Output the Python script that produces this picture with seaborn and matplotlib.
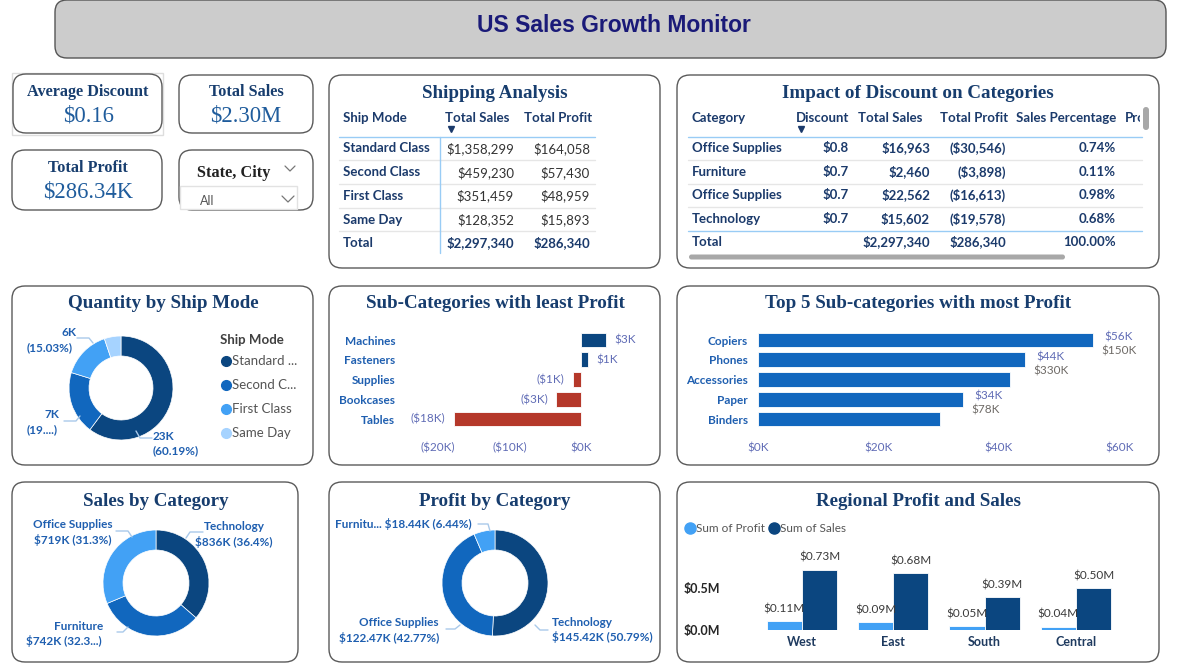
import matplotlib
matplotlib.use("Agg")
import matplotlib.pyplot as plt
import seaborn as sns
import pandas as pd
from matplotlib.patches import FancyBboxPatch, Rectangle
from matplotlib.lines import Line2D
from matplotlib.transforms import Affine2D
from matplotlib.ticker import FuncFormatter

# ---------------- data ----------------
ship_modes = ["Standard Class", "Second Class", "First Class", "Same Day"]
ship_sales = [1358299, 459230, 351459, 128352]
ship_profit = [164058, 57430, 48959, 15893]
ship_qty = [22797, 7423, 5693, 1960]

disc_cats = ["Office Supplies", "Furniture", "Office Supplies", "Technology"]
disc_vals = [0.8, 0.7, 0.7, 0.7]
disc_sales = [16963, 2460, 22562, 15602]
disc_profit = [-30546, -3898, -16613, -19578]
disc_pct = [0.74, 0.11, 0.98, 0.68]
total_sales = 2297340
total_profit = 286340

least_names = ["Machines", "Fasteners", "Supplies", "Bookcases", "Tables"]
least_profit = [3380, 950, -1190, -3470, -17730]

top_names = ["Copiers", "Phones", "Accessories", "Paper", "Binders"]
top_profit = [55620, 44400, 41940, 34050, 30220]
top_sales = [150000, 330000, None, 78000, None]

sales_cats = ["Technology", "Furniture", "Office Supplies"]
sales_cat_vals = [836000, 742000, 719000]

profit_cats = ["Technology", "Office Supplies", "Furniture"]
profit_cat_vals = [145420, 122470, 18440]

regions = ["West", "East", "South", "Central"]
reg_profit = [108420, 91520, 46750, 39710]
reg_sales = [725460, 678780, 391720, 501240]

avg_discount = 0.16

# ---------------- setup ----------------
W, H, DPI = 1196, 671, 100
sns.set_theme(style="white")
plt.rcParams["font.family"] = ["Lato", "DejaVu Sans"]
fig = plt.figure(figsize=(W / DPI, H / DPI), dpi=DPI)
fig.patch.set_facecolor("white")
PX = Affine2D().scale(1 / DPI, -1 / DPI).translate(0, H / DPI) + fig.dpi_scale_trans

NAVY = "#173d6e"
LBL = "#1f5fb0"
SERIF = "Liberation Serif"
DARK = "#0b4680"
MID = "#1167be"
LIGHT = "#42a1f5"
PALE = "#a6d3ff"
RED = "#b5382a"


def box(x0, y0, x1, y1, fc="white", ec="#5a5a5a", r=13, lw=1.0):
    p = FancyBboxPatch((x0, y0), x1 - x0, y1 - y0,
                       boxstyle=f"round,pad=0,rounding_size={r}",
                       fc=fc, ec=ec, lw=lw, transform=PX, zorder=-1)
    fig.add_artist(p)


def txt(x, y, s, **kw):
    kw.setdefault("va", "center")
    return fig.text(x, y, s, transform=PX, **kw)


def line(xs, ys, color="#a9c9ea", lw=1.0, z=2):
    fig.add_artist(Line2D(xs, ys, transform=PX, color=color, lw=lw, zorder=z))


def axes_px(x0, y0, x1, y1):
    ax = fig.add_axes([x0 / W, 1 - y1 / H, (x1 - x0) / W, (y1 - y0) / H])
    ax.patch.set_visible(False)
    return ax


def title(x, y, s, size=13.7):
    txt(x, y + 2, s, ha="center", family=SERIF, weight="bold", size=size, color=NAVY)


# ---------------- header ----------------
box(55, 0, 1166, 58, fc="#cccccc", ec="#555555", r=12)
txt(614, 25, "US Sales Growth Monitor", ha="center", family="Liberation Sans",
    weight="bold", size=16.5, color="#1a1a78")

# ---------------- cards ----------------
fig.add_artist(Rectangle((12, 73), 151, 62, transform=PX, fc="none", ec="#dddddd", lw=1, zorder=-2))
box(13, 74, 162, 133)
box(179, 75, 313, 133)
box(12, 150, 162, 210)
box(179, 150, 313, 210)

CT = dict(ha="center", family=SERIF, weight="bold", size=11.7, color=NAVY)
CV = dict(ha="center", family=SERIF, size=16.3, color="#1f5c9c")
txt(88, 92, "Average Discount", **CT)
txt(88, 116, f"${avg_discount:.2f}", **CV)
txt(246, 92, "Total Sales", **CT)
txt(246, 116, f"${total_sales/1e6:.2f}M", **CV)
txt(88, 168, "Total Profit", **CT)
txt(88, 192, f"${total_profit/1e3:.2f}K", **CV)
txt(197, 173, "State, City", ha="left", family=SERIF, weight="bold", size=11.7, color="#222222")
line([285, 290, 295], [166, 171, 166], color="#777777", lw=0.9)
fig.add_artist(Rectangle((180, 186), 117, 23, transform=PX, fc="white", ec="#e2e2e2", lw=1, zorder=1))
txt(200, 201, "All", ha="left", size=9, color="#555555")
line([282, 288, 294], [196, 202, 196], color="#777777", lw=0.9)

# ---------------- Shipping Analysis table ----------------
box(329, 75, 660, 268)
title(495, 91, "Shipping Analysis")
HC = "#1b3a6b"
txt(343, 118, "Ship Mode", ha="left", weight="bold", size=9.5, color=HC)
txt(445, 118, "Total Sales", ha="left", weight="bold", size=9.5, color=HC)
txt(524, 118, "Total Profit", ha="left", weight="bold", size=9.5, color=HC)
fig.add_artist(Line2D([451], [129], marker="v", ms=4, color=HC, transform=PX, lw=0))
line([339, 595], [136.5, 136.5], color="#99ccf5", lw=1)
line([439.5, 439.5], [137, 253], color="#99ccf5", lw=1)
rows_y = [148.5, 172.5, 196, 219.5]
for i, (m, s, p) in enumerate(zip(ship_modes, ship_sales, ship_profit)):
    y = rows_y[i]
    txt(343, y, m, ha="left", weight="bold", size=9.5, color=HC)
    txt(514, y, f"${s:,}", ha="right", size=9.5, color="#333333")
    txt(590, y, f"${p:,}", ha="right", size=9.5, color="#333333")
    line([339, 595], [y + 11.5, y + 11.5], color="#e6e6e6", lw=1, z=1)
txt(343, 243, "Total", ha="left", weight="bold", size=9.5, color=HC)
txt(514, 243, f"${sum(ship_sales):,}", ha="right", weight="bold", size=9.5, color=HC)
txt(590, 243, f"${sum(ship_profit):,}", ha="right", weight="bold", size=9.5, color=HC)

# ---------------- Impact of Discount table ----------------
box(677, 75, 1159, 268)
title(918, 91, "Impact of Discount on Categories")
txt(692, 118, "Category", ha="left", weight="bold", size=9.5, color=HC)
txt(796, 118, "Discount", ha="left", weight="bold", size=9.5, color=HC)
txt(858, 118, "Total Sales", ha="left", weight="bold", size=9.5, color=HC)
txt(940, 118, "Total Profit", ha="left", weight="bold", size=9.5, color=HC)
txt(1016, 118, "Sales Percentage", ha="left", weight="bold", size=9.5, color=HC)
t = txt(1125, 118, "Profit", ha="left", weight="bold", size=9.5, color=HC)
t.set_clip_path(Rectangle((1100, 100), 40, 40, transform=PX))
fig.add_artist(Line2D([801], [129], marker="v", ms=4, color=HC, transform=PX, lw=0))
line([688, 1142], [136.7, 136.7], color="#99ccf5", lw=1)
rows_y2 = [148, 172, 195, 219]
for i in range(4):
    y = rows_y2[i]
    txt(692, y, disc_cats[i], ha="left", weight="bold", size=9.5, color=HC)
    txt(849, y, f"${disc_vals[i]:.1f}", ha="right", weight="bold", size=9.5, color=HC)
    txt(930, y, f"${disc_sales[i]:,}", ha="right", weight="bold", size=9.5, color=HC)
    txt(1006, y, f"(${abs(disc_profit[i]):,})", ha="right", weight="bold", size=9.5, color=HC)
    txt(1116, y, f"{disc_pct[i]:.2f}%", ha="right", weight="bold", size=9.5, color=HC)
    if i < 3:
        line([688, 1142], [y + 11.7, y + 11.7], color="#e6e6e6", lw=1, z=1)
line([688, 1142], [230.5, 230.5], color="#99ccf5", lw=1)
txt(692, 242, "Total", ha="left", weight="bold", size=9.5, color=HC)
txt(930, 242, f"${total_sales:,}", ha="right", weight="bold", size=9.5, color=HC)
txt(1006, 242, f"${total_profit:,}", ha="right", weight="bold", size=9.5, color=HC)
txt(1116, 242, "100.00%", ha="right", weight="bold", size=9.5, color=HC)
fig.add_artist(FancyBboxPatch((689, 254.5), 376, 5, boxstyle="round,pad=0,rounding_size=2.5",
                              fc="#a8a8a8", ec="none", transform=PX, zorder=2))
fig.add_artist(FancyBboxPatch((1143, 107), 6, 23, boxstyle="round,pad=0,rounding_size=3",
                              fc="#a8a8a8", ec="none", transform=PX, zorder=2))


# ---------------- donuts ----------------
def donut(cx, cy, R, r, vals, cols):
    ax = axes_px(cx - R, cy - R, cx + R, cy + R)
    ax.pie(vals, colors=cols, startangle=90, counterclock=False, radius=1,
           wedgeprops=dict(width=(R - r) / R, edgecolor="white", linewidth=0.5))
    ax.set_xlim(-1, 1)
    ax.set_ylim(-1, 1)
    ax.set_aspect("equal")
    ax.axis("off")
    return ax


def kfmt(v):
    return f"{v/1000:.0f}K"


# Quantity by Ship Mode
box(12, 286, 313, 465)
title(163, 302, "Quantity by Ship Mode")
donut(121, 388, 52, 32, ship_qty, [DARK, MID, LIGHT, PALE])
qt = sum(ship_qty)
txt(69, 332, kfmt(ship_qty[2]), ha="center", weight="bold", size=8.5, color=LBL)
txt(50, 348, f"({ship_qty[2]/qt*100:.2f}%)", ha="center", weight="bold", size=8.5, color=LBL)
line([77, 89, 93], [338, 338, 343])
txt(52, 414, kfmt(ship_qty[1]), ha="center", weight="bold", size=8.5, color=LBL)
txt(42, 430, "(19....)", ha="center", weight="bold", size=8.5, color=LBL)
line([64, 76, 80], [421, 421, 416])
txt(163, 436, kfmt(ship_qty[0]), ha="center", weight="bold", size=8.5, color=LBL)
txt(176, 451, f"({ship_qty[0]/qt*100:.2f}%)", ha="center", weight="bold", size=8.5, color=LBL)
line([136, 140, 152], [431, 438, 438])
txt(220, 340, "Ship Mode", ha="left", weight="bold", size=9.5, color="#404040")
short = ["Standard ...", "Second C...", "First Class", "Same Day"]
for i, (s, c) in enumerate(zip(short, [DARK, MID, LIGHT, PALE])):
    y = 361 + 24 * i
    fig.add_artist(Line2D([226], [y], marker="o", ms=7, color=c, transform=PX, lw=0))
    txt(232, y, s, ha="left", size=9.5, color="#555555")

# Sales by Category
box(12, 482, 298, 662)
title(156, 499, "Sales by Category")
donut(156, 583, 53, 33, sales_cat_vals, [DARK, MID, LIGHT])
st = sum(sales_cat_vals)
txt(73, 524, "Office Supplies", ha="center", weight="bold", size=8.5, color=LBL)
txt(73, 540, f"${sales_cat_vals[2]/1e3:.0f}K ({sales_cat_vals[2]/st*100:.1f}%)", ha="center", weight="bold", size=8.5, color=LBL)
line([116, 128, 132], [531, 531, 537])
txt(234, 526, "Technology", ha="center", weight="bold", size=8.5, color=LBL)
txt(234, 542, f"${sales_cat_vals[0]/1e3:.0f}K ({sales_cat_vals[0]/st*100:.1f}%)", ha="center", weight="bold", size=8.5, color=LBL)
line([203, 190, 186], [532, 532, 538])
txt(79, 626, "Furniture", ha="center", weight="bold", size=8.5, color=LBL)
txt(64, 641, f"${sales_cat_vals[1]/1e3:.0f}K (32.3...)", ha="center", weight="bold", size=8.5, color=LBL)
line([117, 123, 128], [632, 632, 627])

# Profit by Category
box(329, 482, 660, 662)
title(495, 499, "Profit by Category")
donut(495, 583, 53, 33, profit_cat_vals, [DARK, MID, LIGHT])
pt = sum(profit_cat_vals)
txt(335, 524, f"Furnitu... ${profit_cat_vals[2]/1e3:.2f}K ({profit_cat_vals[2]/pt*100:.2f}%)", ha="left", weight="bold", size=8.5, color=LBL)
line([478, 488, 490], [524, 524, 531])
txt(439, 623, "Office Supplies", ha="right", weight="bold", size=8.5, color=LBL)
txt(439, 638, f"${profit_cat_vals[1]/1e3:.2f}K ({profit_cat_vals[1]/pt*100:.2f}%)", ha="right", weight="bold", size=8.5, color=LBL)
line([446, 455, 460], [629, 629, 625])
txt(552, 622, "Technology", ha="left", weight="bold", size=8.5, color=LBL)
txt(552, 637, f"${profit_cat_vals[0]/1e3:.2f}K ({profit_cat_vals[0]/pt*100:.2f}%)", ha="left", weight="bold", size=8.5, color=LBL)
line([548, 540, 535], [630, 630, 625])

# ---------------- Sub-categories with least profit ----------------
box(329, 286, 660, 465)
title(495, 302, "Sub-Categories with least Profit")
ax = axes_px(405, 328.2, 652, 430.9)
df_l = pd.DataFrame({"name": least_names, "profit": least_profit})
cols_l = [DARK if v >= 0 else RED for v in least_profit]
sns.barplot(data=df_l, x="profit", y="name", hue="name", palette=cols_l, legend=False,
            orient="h", width=0.75, ax=ax, edgecolor="white", linewidth=0.6, saturation=1)
ax.set_xlim(-24500, 9800)
ax.set_ylim(4.6, -0.6)
ax.set_xticks([-20000, -10000, 0])
ax.xaxis.set_major_formatter(FuncFormatter(lambda v, p: f"$0K" if v == 0 else f"(${abs(v)/1000:.0f}K)"))
ax.set_xlabel("")
ax.set_ylabel("")
ax.tick_params(axis="y", length=0, pad=7, labelsize=8.5, labelcolor=LBL)
ax.tick_params(axis="x", length=0, pad=8, labelsize=8.5, labelcolor="#5f6bb5")
for lab in ax.get_yticklabels():
    lab.set_fontweight("bold")
sns.despine(ax=ax, left=True, bottom=True)
for i, v in enumerate(least_profit):
    k = round(abs(v) / 1000)
    if v >= 0:
        ax.text(v + 1150, i, f"${k}K", ha="left", va="center", size=8.5, color="#5f6bb5")
    else:
        ax.text(v - 1150, i, f"(${k}K)", ha="right", va="center", size=8.5, color="#5f6bb5")

# ---------------- Top 5 Sub-categories ----------------
box(677, 286, 1159, 465)
title(918, 302, "Top 5 Sub-categories with most Profit")
ax = axes_px(757.7, 328.2, 1140, 430.9)
df_t = pd.DataFrame({"name": top_names, "profit": top_profit})
sns.barplot(data=df_t, x="profit", y="name", color=MID, orient="h", width=0.75, ax=ax,
            edgecolor="white", linewidth=0.6, saturation=1)
ax.set_xlim(0, 63470)
ax.set_ylim(4.6, -0.6)
ax.set_xticks([0, 20000, 40000, 60000])
ax.xaxis.set_major_formatter(FuncFormatter(lambda v, p: f"${v/1000:.0f}K"))
ax.set_xlabel("")
ax.set_ylabel("")
ax.tick_params(axis="y", length=0, pad=7, labelsize=8.5, labelcolor=LBL)
ax.tick_params(axis="x", length=0, pad=8, labelsize=8.5, labelcolor="#5f6bb5")
for lab in ax.get_yticklabels():
    lab.set_fontweight("bold")
sns.despine(ax=ax, left=True, bottom=True)
for i, (p, s) in enumerate(zip(top_profit, top_sales)):
    if s is None:
        continue
    ax.text(p + 1900, i - 0.15, f"${p/1000:.0f}K", ha="left", va="center", size=8.5, color="#5f6bb5")
    ax.text(p + 1400, i + 0.55, f"${s/1000:.0f}K", ha="left", va="center", size=8.5, color="#6e6a66")

# ---------------- Regional Profit and Sales ----------------
box(677, 482, 1159, 662)
title(918, 499, "Regional Profit and Sales")
ax = axes_px(740, 545, 1125, 630)
df_r = pd.DataFrame({
    "region": regions * 2,
    "measure": ["Sum of Profit"] * 4 + ["Sum of Sales"] * 4,
    "value": reg_profit + reg_sales,
})
sns.barplot(data=df_r, x="region", y="value", hue="measure", palette=[LIGHT, DARK],
            width=0.77, ax=ax, saturation=1, edgecolor="white", linewidth=0.6)
ax.set_ylim(0, 1.02e6)
ax.set_xlim(-0.679, 3.537)
ax.set_yticks([0, 500000])
ax.yaxis.set_major_formatter(FuncFormatter(lambda v, p: f"${v/1e6:.1f}M"))
ax.set_xlabel("")
ax.set_ylabel("")
ax.tick_params(axis="y", length=0, pad=14, labelsize=9, labelcolor="#252525")
ax.tick_params(axis="x", length=0, pad=4, labelsize=9, labelcolor="#1e3a5f")
for lab in ax.get_yticklabels() + ax.get_xticklabels():
    lab.set_fontweight("bold")
sns.despine(ax=ax, left=True, bottom=True)
for cont in ax.containers:
    ax.bar_label(cont, labels=[f"${b.get_height()/1e6:.2f}M" for b in cont],
                 padding=5, fontsize=8.5, color="#3a3a3a")
ax.get_legend().remove()
handles = [Line2D([], [], marker="o", ms=8, lw=0, color=LIGHT),
           Line2D([], [], marker="o", ms=8, lw=0, color=DARK)]
fig.legend(handles, ["Sum of Profit", "Sum of Sales"], loc="center left",
           bbox_to_anchor=(684 / W, 1 - 529 / H), ncol=2, frameon=False,
           handletextpad=0.0, columnspacing=0.3, handlelength=1.0, fontsize=8.5,
           labelcolor="#555555", borderaxespad=0, borderpad=0)

fig.savefig("out.png", dpi=DPI)
